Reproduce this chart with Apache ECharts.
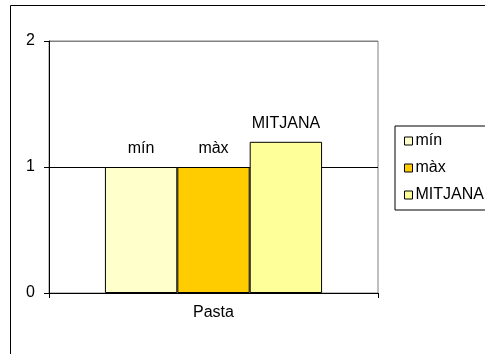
<!DOCTYPE html>
<html>
<head>
<meta charset="utf-8">
<script src="https://cdn.jsdelivr.net/npm/echarts@6/dist/echarts.min.js"></script>
<style>
html,body{margin:0;padding:0;background:#fff;}
#c{width:485px;height:354px;}
</style>
</head>
<body>
<div id="c"></div>
<script>
var categories = ['Pasta'];
var seriesNames = ['mín', 'màx', 'MITJANA'];
var minValues = [1];
var maxValues = [1];
var meanValues = [1.2];
var seriesColors = ['#FFFFCC', '#FFCC00', '#FFFF99'];
var yTicks = [0, 1, 2];

var FONT = '"Liberation Sans", Arial, sans-serif';
var chart = echarts.init(document.getElementById('c'), null, {renderer: 'canvas'});

var dataSets = [minValues, maxValues, meanValues];
var series = dataSets.map(function (d, i) {
  return {
    name: seriesNames[i],
    type: 'bar',
    data: d,
    barGap: '0%',
    barCategoryGap: '34%',
    itemStyle: {color: seriesColors[i], borderColor: '#000', borderWidth: 1},
    label: {
      show: true, position: 'top', formatter: '{a}', distance: 10,
      color: '#000', fontFamily: FONT, fontSize: 16
    },
    emphasis: {disabled: true},
    animation: false
  };
});

chart.setOption({
  animation: false,
  graphic: [{
    type: 'rect',
    shape: {x: 10.5, y: 5.5, width: 500, height: 400},
    style: {fill: 'none', stroke: '#000', lineWidth: 1},
    silent: true, z: -10
  }],
  grid: {
    left: 49, right: 107, top: 41, bottom: 61,
    show: true, borderColor: '#808080', borderWidth: 1, backgroundColor: '#fff'
  },
  legend: {
    orient: 'vertical', left: 395, top: 126,
    padding: [7, 6, 7, 9],
    itemWidth: 8, itemHeight: 8, itemGap: 11,
    borderColor: '#000', borderWidth: 1,
    icon: 'rect',
    itemStyle: {borderColor: '#000', borderWidth: 1},
    textStyle: {fontFamily: FONT, fontSize: 16, color: '#000', padding: [0, 0, 0, -2]},
    data: seriesNames
  },
  xAxis: {
    type: 'category',
    data: categories,
    axisLine: {lineStyle: {color: '#000', width: 1}},
    axisTick: {show: true, length: 5, lineStyle: {color: '#000'}},
    axisLabel: {fontFamily: FONT, fontSize: 16, color: '#000', margin: 12}
  },
  yAxis: {
    type: 'value', min: yTicks[0], max: yTicks[yTicks.length - 1], interval: 1,
    axisLine: {show: true, lineStyle: {color: '#000', width: 1}},
    axisTick: {show: true, length: 5, lineStyle: {color: '#000'}},
    axisLabel: {fontFamily: FONT, fontSize: 16, color: '#000', margin: 14},
    splitLine: {show: true, lineStyle: {color: ['#000', '#000', '#808080'], width: 1}}
  },
  series: series
});
</script>
</body>
</html>
